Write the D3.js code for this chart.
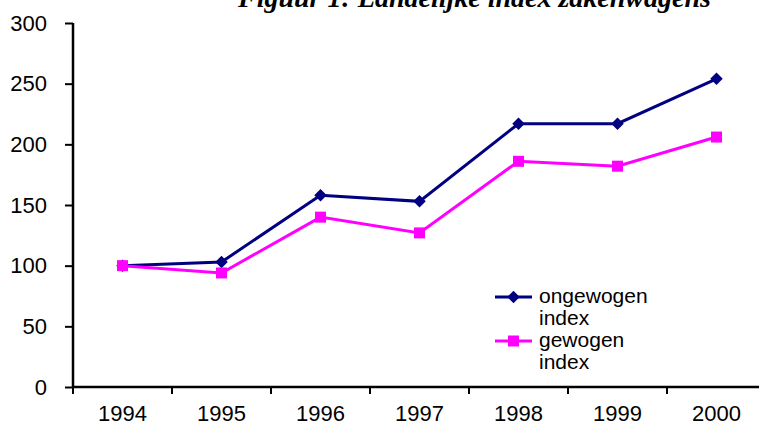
<!DOCTYPE html>
<html>
<head>
<meta charset='utf-8'>
<title>Figuur 1</title>
<script src='https://d3js.org/d3.v7.min.js'></script>
<style>
    html, body {
        margin: 0px;
        padding: 0px;
        background: white;
    }
    svg {
        display: block;
    }
    .tick text {
        font-family: 'Liberation Sans', Arial, sans-serif;
        font-size: 22px;
        fill: black;
    }
    .legend text {
        font-family: 'Liberation Sans', Arial, sans-serif;
        font-size: 21px;
    }
    .title {
        font-family: 'Liberation Serif', 'Times New Roman', serif;
        font-weight: bold;
        font-style: italic;
        font-size: 28px;
    }
</style>
</head>
<body>
<div id='chart'></div>
<script>
    // data
    var years = ['1994', '1995', '1996', '1997', '1998', '1999', '2000'];
    var ongewogen = [100, 103, 158, 153, 217, 217, 254];
    var gewogen = [100, 94, 140, 127, 186, 182, 206];
    var yTicks = [0, 50, 100, 150, 200, 250, 300];
    var seriesNames = ['ongewogen index', 'gewogen index'];

    var width = 759, height = 427;

    var svg = d3.select('#chart').append('svg')
        .attr('width', width)
        .attr('height', height);

    // plot area runs past the right edge, like the original crop
    var x = d3.scaleBand()
        .domain(years)
        .range([73, 766])
        .padding(0);

    var y = d3.scaleLinear()
        .domain([0, 300])
        .range([387, 23]);

    // title, cut off at the top
    svg.append('text')
        .attr('class', 'title')
        .attr('x', 238)
        .attr('y', 7)
        .text('Figuur 1: Landelijke index zakenwagens');

    // y axis
    var yAxis = svg.append('g')
        .attr('transform', 'translate(73,0)')
        .call(d3.axisLeft(y).tickValues(yTicks).tickSize(8).tickPadding(18));

    // x axis: ticks at band edges, labels centred in bands
    var xAxis = svg.append('g')
        .attr('transform', 'translate(0,387)')
        .call(d3.axisBottom(x).tickSize(0).tickPadding(18));

    var edges = years.map(function(d) { return x(d); });
    edges.push(x(years[years.length - 1]) + x.bandwidth());
    xAxis.selectAll('.edge')
        .data(edges)
        .enter()
        .append('line')
        .attr('class', 'edge')
        .attr('x1', function(d) { return d; })
        .attr('x2', function(d) { return d; })
        .attr('y1', 0)
        .attr('y2', 7)
        .attr('stroke', 'black')
        .attr('stroke-width', 2);

    [yAxis, xAxis].forEach(function(ax) {
        ax.select('.domain').attr('stroke', 'black').attr('stroke-width', 2.5);
        ax.selectAll('.tick line').attr('stroke', 'black').attr('stroke-width', 2);
    });
    yAxis.select('.domain').attr('d', 'M0,' + y(300) + 'V' + y(0));
    xAxis.select('.domain').attr('d', 'M' + 73 + ',0H' + 766);

    var cx = function(d, i) { return x(years[i]) + x.bandwidth() / 2; };

    var line = d3.line()
        .x(cx)
        .y(function(d) { return y(d); });

    // ongewogen index
    svg.append('path')
        .datum(ongewogen)
        .attr('d', line)
        .attr('fill', 'none')
        .attr('stroke', '#000080')
        .attr('stroke-width', 3);

    svg.selectAll('.diamond')
        .data(ongewogen)
        .enter()
        .append('path')
        .attr('class', 'diamond')
        .attr('d', d3.symbol().type(d3.symbolDiamond2).size(100))
        .attr('transform', function(d, i) { return 'translate(' + cx(d, i) + ',' + y(d) + ')'; })
        .attr('fill', '#000080');

    // gewogen index
    svg.append('path')
        .datum(gewogen)
        .attr('d', line)
        .attr('fill', 'none')
        .attr('stroke', '#ff00ff')
        .attr('stroke-width', 3);

    svg.selectAll('.square')
        .data(gewogen)
        .enter()
        .append('rect')
        .attr('class', 'square')
        .attr('x', function(d, i) { return cx(d, i) - 5.5; })
        .attr('y', function(d) { return y(d) - 5.5; })
        .attr('width', 11)
        .attr('height', 11)
        .attr('fill', '#ff00ff');

    // legend
    var legend = svg.append('g').attr('class', 'legend');
    var colors = ['#000080', '#ff00ff'];

    seriesNames.forEach(function(name, i) {
        var ly = 297 + i * 44;
        legend.append('line')
            .attr('x1', 495).attr('x2', 532)
            .attr('y1', ly).attr('y2', ly)
            .attr('stroke', colors[i])
            .attr('stroke-width', 3);
        if (i == 0) {
            legend.append('path')
                .attr('d', d3.symbol().type(d3.symbolDiamond2).size(100))
                .attr('transform', 'translate(513.5,' + ly + ')')
                .attr('fill', colors[i]);
        } else {
            legend.append('rect')
                .attr('x', 508).attr('y', ly - 5.5)
                .attr('width', 11).attr('height', 11)
                .attr('fill', colors[i]);
        }
        var words = name.split(' ');
        var t = legend.append('text')
            .attr('x', 539)
            .attr('y', ly + 6);
        words.forEach(function(w, k) {
            t.append('tspan')
                .attr('x', 539)
                .attr('dy', k == 0 ? 0 : 22)
                .text(w);
        });
    });
</script>
</body>
</html>
